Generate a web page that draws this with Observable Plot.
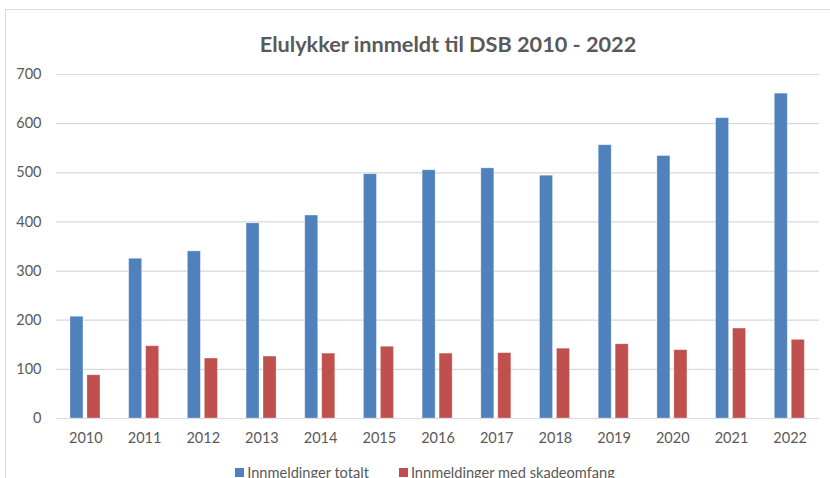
<!DOCTYPE html>
<html>
<head>
<meta charset="utf-8">
<script src="https://cdn.jsdelivr.net/npm/d3@7"></script>
<script src="https://cdn.jsdelivr.net/npm/@observablehq/plot@0.6"></script>
<style>
  html, body { margin: 0; padding: 0; background: #fff; }
  #wrap { position: relative; width: 830px; height: 478px; overflow: hidden; font-family: Lato, "Open Sans", sans-serif; }
  #border { position: absolute; left: 5px; top: 9px; width: 900px; height: 600px; border-top: 1.5px solid #d9d9d9; border-left: 1.5px solid #d9d9d9; }
  #title { position: relative; height: 60px; box-sizing: border-box; padding-top: 30px; padding-left: 66px; text-align: center; font-weight: bold; font-size: 21.7px; line-height: 28px; color: #595959; }
  #chart { position: relative; }
  #legend { position: relative; display: flex; justify-content: center; align-items: center; margin-left: 20px; padding-top: 16px; font-size: 14.6px; line-height: 17px; color: #595959; }
  .item { display: flex; align-items: center; margin: 0 15px; }
  .sw { width: 9px; height: 9px; margin-right: 3px; }
</style>
</head>
<body>
<div id="wrap">
  <div id="border"></div>
  <div id="title">Elulykker innmeldt til DSB 2010 - 2022</div>
  <div id="chart"></div>
  <div id="legend"></div>
</div>
<script>
const years = ["2010","2011","2012","2013","2014","2015","2016","2017","2018","2019","2020","2021","2022"];
const seriesNames = ["Innmeldinger totalt", "Innmeldinger med skadeomfang"];
const totalt = [207, 325, 340, 397, 413, 497, 505, 509, 494, 556, 534, 611, 661];
const skade = [88, 147, 122, 126, 132, 146, 132, 133, 142, 151, 139, 183, 160];
const yTicks = [0, 100, 200, 300, 400, 500, 600, 700];
const colors = ["#4f81bd", "#c0504d"];

const rowsTotalt = years.map((yr, i) => ({year: yr, series: seriesNames[0], value: totalt[i]}));
const rowsSkade = years.map((yr, i) => ({year: yr, series: seriesNames[1], value: skade[i]}));

const barStyle = {fx: "year", x: "series", y: "value", fill: "series", stroke: "#ffffff", strokeOpacity: 0.35, strokeWidth: 0.8};

const chart = Plot.plot({
  width: 830,
  height: 388,
  marginLeft: 56,
  marginRight: 11,
  marginTop: 14,
  marginBottom: 30,
  style: {fontFamily: "Lato, 'Open Sans', sans-serif", fontSize: "14.5px", color: "#595959", background: "transparent"},
  fx: {domain: years, padding: 0, round: false, label: null},
  x: {domain: seriesNames, padding: 0, round: false, axis: null},
  y: {domain: [0, 700], label: null},
  color: {domain: seriesNames, range: colors},
  marks: [
    Plot.gridY(yTicks, {stroke: "#d9d9d9", strokeOpacity: 1, strokeWidth: 1.2}),
    Plot.barY(rowsTotalt, {...barStyle, insetLeft: 14, insetRight: 2.4}),
    Plot.barY(rowsSkade, {...barStyle, insetLeft: 1.6, insetRight: 14.7}),
    Plot.axisY(yTicks, {tickSize: 0, tickPadding: 15, fill: "#595959", label: null, fontSize: 14.5}),
    Plot.axisFx({anchor: "bottom", tickSize: 0, tickPadding: 14, fill: "#595959", label: null, fontSize: 14.5})
  ]
});
document.getElementById("chart").appendChild(chart);

const legend = document.getElementById("legend");
seriesNames.forEach((name, i) => {
  const it = document.createElement("div");
  it.className = "item";
  const sw = document.createElement("div");
  sw.className = "sw";
  sw.style.background = colors[i];
  const t = document.createElement("span");
  t.textContent = name;
  it.appendChild(sw);
  it.appendChild(t);
  legend.appendChild(it);
});
</script>
</body>
</html>
